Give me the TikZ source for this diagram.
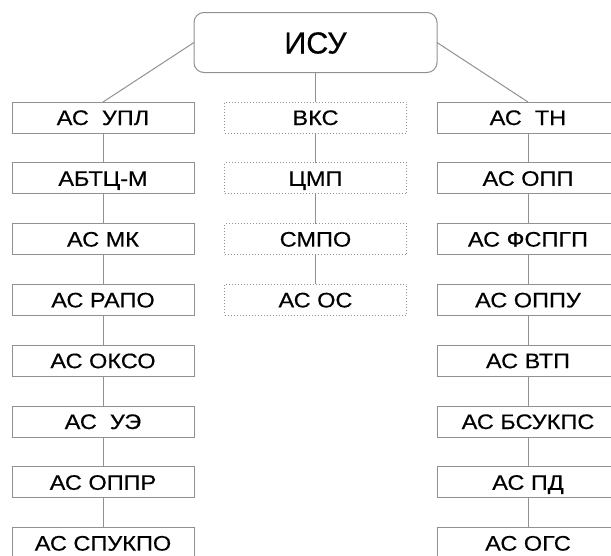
\documentclass[tikz,border=0pt]{standalone}
\usepackage{fontspec}
\newfontfamily\boxfont{Liberation Sans}[FakeStretch=1.12,FakeBold=0.4]
\newfontfamily\topfont{Liberation Sans}[FakeBold=0.4]
\definecolor{edgegray}{RGB}{145,145,145}
\begin{document}
\begin{tikzpicture}[x=1pt,y=-1pt,
  every node/.style={inner sep=0pt, outer sep=0pt},
  sbox/.style={draw=edgegray, line width=1pt, fill=white, minimum width=182pt, minimum height=31pt,
     text height=15pt, text depth=0pt, font=\boxfont\fontsize{21}{25}\selectfont},
  dbox/.style={sbox, dotted, line width=1pt},
  topbox/.style={draw=edgegray, line width=1pt, fill=white, rounded corners=10pt, minimum width=243pt, minimum height=60pt,
     text height=22pt, text depth=0pt, font=\topfont\fontsize{30.5}{34}\selectfont},
  link/.style={draw=edgegray, line width=1pt}]
\useasboundingbox (0,0) rectangle (611,555);
\clip (0,0) rectangle (611,555);
\fill[white] (0,0) rectangle (611,555);
\node[topbox] (isu) at (315.5,42.5) {ИСУ};
\foreach \i/\t in {1/{АС\ \ УПЛ},2/{АБТЦ-М},3/{АС МК},4/{АС РАПО},5/{АС ОКСО},6/{АС\ \ УЭ},7/{АС ОППР},8/{АС СПУКПО}}{
  \node[sbox] (l\i) at (103,{117.5+60.8*(\i-1)}) {\t};
}
\foreach \i/\t in {1/{АС\ \ ТН},2/{АС ОПП},3/{АС ФСПГП},4/{АС ОППУ},5/{АС ВТП},6/{АС БСУКПС},7/{АС ПД},8/{АС ОГС}}{
  \node[sbox] (r\i) at (528,{117.5+60.8*(\i-1)}) {\t};
}
\foreach \i/\t in {1/{ВКС},2/{ЦМП},3/{СМПО},4/{АС ОС}}{
  \node[dbox] (m\i) at (315.5,{117.5+60.8*(\i-1)}) {\t};
}
\draw[link] (isu.west) -- (l1.north);
\draw[link] (isu.east) -- (r1.north);
\draw[link] (isu.south) -- (m1.north);
\foreach \a/\b in {1/2,2/3,3/4,4/5,5/6,6/7,7/8}{
  \draw[link] (l\a.south) -- (l\b.north);
  \draw[link] (r\a.south) -- (r\b.north);
}
\foreach \a/\b in {1/2,2/3,3/4}{
  \draw[link] (m\a.south) -- (m\b.north);
}
\end{tikzpicture}
\end{document}
